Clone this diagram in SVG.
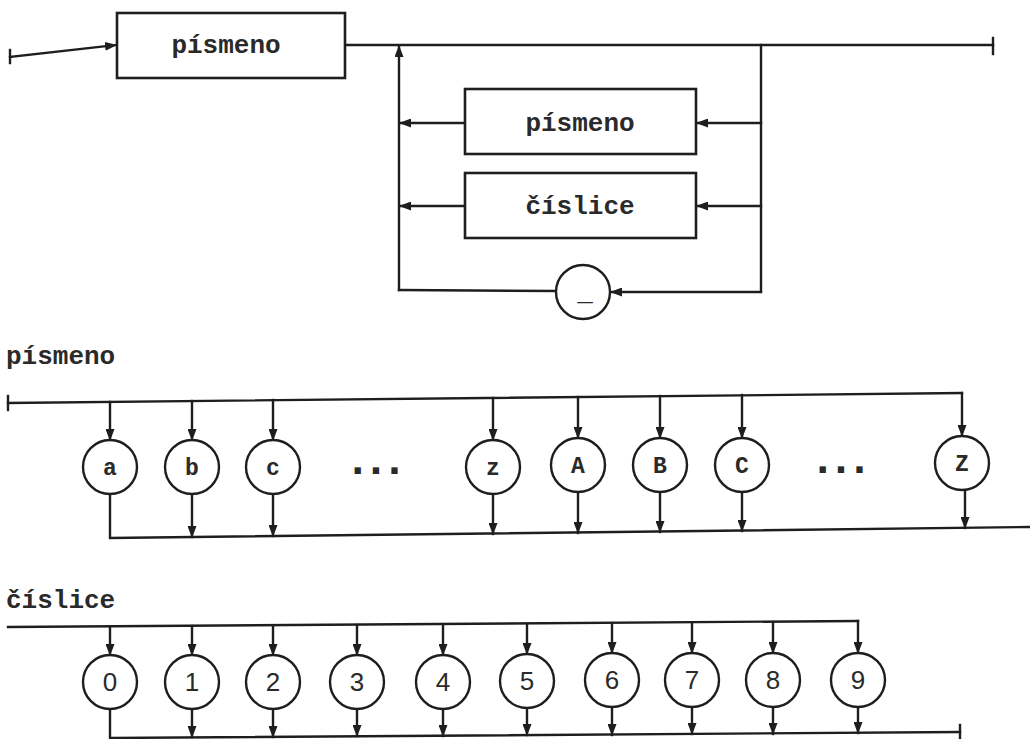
<svg xmlns="http://www.w3.org/2000/svg" width="1030" height="739" viewBox="0 0 1030 739">
<style>
.ln{fill:none;stroke:#1e1e1e;stroke-width:2.4;stroke-linecap:square}
.bx{fill:#fff;stroke:#1e1e1e;stroke-width:2.6}
.ci{fill:#fff;stroke:#1e1e1e;stroke-width:2.4}
.t{font-family:"Liberation Mono","Courier New",monospace;font-weight:bold;fill:#2a2a2a}
.big{font-size:26px}
.sm{font-size:23px}
.dots{font-size:44px;letter-spacing:-8px}
.dg{font-family:"Liberation Sans",Arial,sans-serif;font-size:26px;fill:#2a2a2a}
.arr{marker-end:url(#ah)}
</style>
<defs>
<marker id="ah" markerUnits="userSpaceOnUse" markerWidth="12" markerHeight="9" refX="11" refY="4.5" orient="auto">
<path d="M0,0 L12,4.5 L0,9 z" fill="#1e1e1e"/>
</marker>
</defs>
<rect width="1030" height="739" fill="#fff"/>

<g id="connectors">
<path class="ln arr" d="M10,57 L116,45"/>
<path class="ln" d="M10,50 L10,63"/>
<path class="ln" d="M345,45 L993,45"/>
<path class="ln" d="M993,38 L993,54"/>
<path class="ln arr" d="M399,290 L399,46"/>
<path class="ln" d="M761,45 L761,291"/>
<path class="ln arr" d="M761,123 L697,123"/>
<path class="ln arr" d="M761,206 L697,206"/>
<path class="ln arr" d="M465,123 L400,123"/>
<path class="ln arr" d="M465,206 L400,206"/>
<path class="ln" d="M399,290 L556,291"/>
<path class="ln arr" d="M761,292 L611,292"/>

<path class="ln" d="M8,403 L962,393"/>
<path class="ln" d="M8,396 L8,410"/>
<path class="ln arr" d="M110,402 L110,440"/>
<path class="ln arr" d="M192,401 L192,440"/>
<path class="ln arr" d="M273,400 L273,440"/>
<path class="ln arr" d="M493,398 L493,440"/>
<path class="ln arr" d="M578,397 L578,438"/>
<path class="ln arr" d="M660,396 L660,438"/>
<path class="ln arr" d="M742,395 L742,438"/>
<path class="ln arr" d="M962,393 L962,436"/>
<path class="ln" d="M110,494 L110,538 L1030,527"/>
<path class="ln arr" d="M192,494 L192,537"/>
<path class="ln arr" d="M273,494 L273,536"/>
<path class="ln arr" d="M493,494 L493,534"/>
<path class="ln arr" d="M578,492 L578,533"/>
<path class="ln arr" d="M660,492 L660,532"/>
<path class="ln arr" d="M742,492 L742,531"/>
<path class="ln arr" d="M965,490 L965,528"/>

<path class="ln" d="M8,627 L858,621"/>
<path class="ln arr" d="M110,627 L110,655"/>
<path class="ln arr" d="M192,626 L192,655"/>
<path class="ln arr" d="M273,626 L273,655"/>
<path class="ln arr" d="M357,625 L357,655"/>
<path class="ln arr" d="M443,625 L443,655"/>
<path class="ln arr" d="M527,624 L527,654"/>
<path class="ln arr" d="M612,623 L612,653"/>
<path class="ln arr" d="M692,623 L692,653"/>
<path class="ln arr" d="M773,622 L773,653"/>
<path class="ln arr" d="M858,621 L858,653"/>
<path class="ln" d="M110,709 L110,738 L960,732"/>
<path class="ln" d="M960,725 L960,739"/>
<path class="ln arr" d="M192,709 L192,737"/>
<path class="ln arr" d="M273,709 L273,737"/>
<path class="ln arr" d="M357,709 L357,736"/>
<path class="ln arr" d="M443,709 L443,736"/>
<path class="ln arr" d="M527,708 L527,735"/>
<path class="ln arr" d="M612,707 L612,735"/>
<path class="ln arr" d="M692,707 L692,734"/>
<path class="ln arr" d="M773,707 L773,734"/>
<path class="ln arr" d="M858,707 L858,733"/>
</g>

<g id="n-pismeno-main"><rect class="bx" x="117" y="13" width="228" height="65"/><text class="t big" x="226" y="53" text-anchor="middle">písmeno</text></g>
<g id="n-pismeno-loop"><rect class="bx" x="465" y="89" width="231" height="65"/><text class="t big" x="580" y="131" text-anchor="middle">písmeno</text></g>
<g id="n-cislice-loop"><rect class="bx" x="465" y="173" width="231" height="65"/><text class="t big" x="580" y="214" text-anchor="middle">číslice</text></g>
<g id="n-underscore"><circle class="ci" cx="583" cy="292" r="27"/><text class="t big" x="585" y="300" text-anchor="middle">_</text></g>

<text id="lbl-pismeno" class="t big" x="6" y="364">písmeno</text>
<g id="n-a"><circle class="ci" cx="110" cy="467" r="27"/><text class="t sm" x="110" y="475" text-anchor="middle">a</text></g>
<g id="n-b"><circle class="ci" cx="192" cy="467" r="27"/><text class="t sm" x="192" y="475" text-anchor="middle">b</text></g>
<g id="n-c"><circle class="ci" cx="273" cy="467" r="27"/><text class="t sm" x="273" y="475" text-anchor="middle">c</text></g>
<text class="t dots" x="372" y="474" text-anchor="middle">...</text>
<g id="n-z"><circle class="ci" cx="493" cy="467" r="27"/><text class="t sm" x="493" y="475" text-anchor="middle">z</text></g>
<g id="n-A"><circle class="ci" cx="578" cy="465" r="27"/><text class="t sm" x="578" y="473" text-anchor="middle">A</text></g>
<g id="n-B"><circle class="ci" cx="660" cy="465" r="27"/><text class="t sm" x="660" y="473" text-anchor="middle">B</text></g>
<g id="n-C"><circle class="ci" cx="742" cy="465" r="27"/><text class="t sm" x="742" y="473" text-anchor="middle">C</text></g>
<text class="t dots" x="837" y="473" text-anchor="middle">...</text>
<g id="n-Z"><circle class="ci" cx="962" cy="463" r="27"/><text class="t sm" x="962" y="471" text-anchor="middle">Z</text></g>

<text id="lbl-cislice" class="t big" x="6" y="608">číslice</text>
<g id="n-0"><circle class="ci" cx="110" cy="682" r="27"/><text class="dg" x="110" y="691" text-anchor="middle">0</text></g>
<g id="n-1"><circle class="ci" cx="192" cy="682" r="27"/><text class="dg" x="192" y="691" text-anchor="middle">1</text></g>
<g id="n-2"><circle class="ci" cx="273" cy="682" r="27"/><text class="dg" x="273" y="691" text-anchor="middle">2</text></g>
<g id="n-3"><circle class="ci" cx="357" cy="682" r="27"/><text class="dg" x="357" y="691" text-anchor="middle">3</text></g>
<g id="n-4"><circle class="ci" cx="443" cy="682" r="27"/><text class="dg" x="443" y="691" text-anchor="middle">4</text></g>
<g id="n-5"><circle class="ci" cx="527" cy="681" r="27"/><text class="dg" x="527" y="690" text-anchor="middle">5</text></g>
<g id="n-6"><circle class="ci" cx="612" cy="680" r="27"/><text class="dg" x="612" y="689" text-anchor="middle">6</text></g>
<g id="n-7"><circle class="ci" cx="692" cy="680" r="27"/><text class="dg" x="692" y="689" text-anchor="middle">7</text></g>
<g id="n-8"><circle class="ci" cx="773" cy="680" r="27"/><text class="dg" x="773" y="689" text-anchor="middle">8</text></g>
<g id="n-9"><circle class="ci" cx="858" cy="680" r="27"/><text class="dg" x="858" y="689" text-anchor="middle">9</text></g>
</svg>
